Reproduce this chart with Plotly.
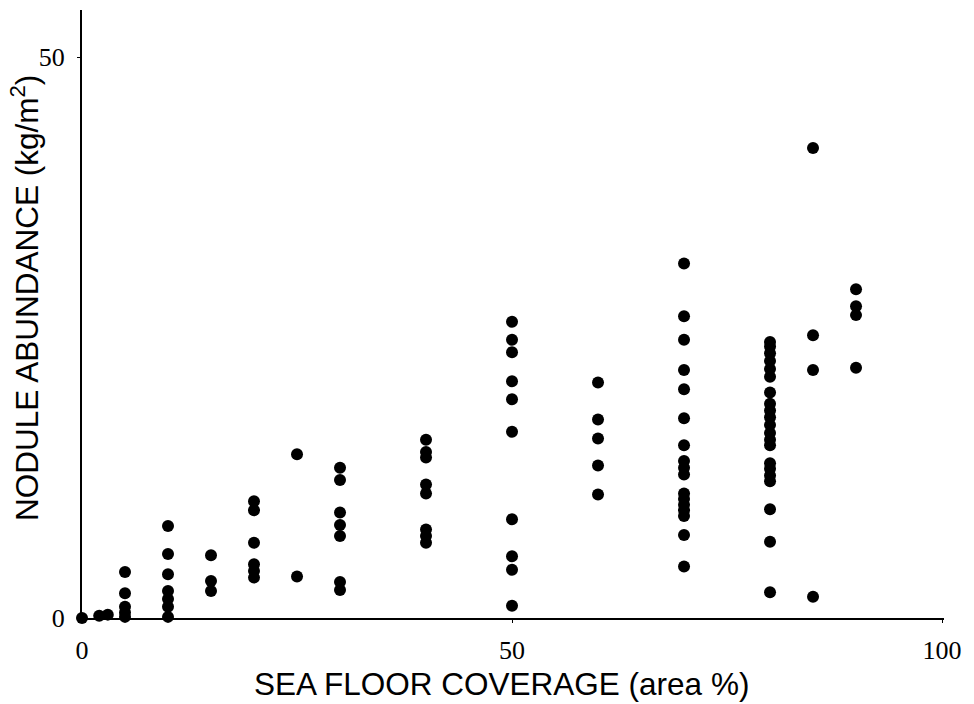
import plotly.graph_objects as go

# Sea floor coverage (area %) columns and nodule abundance (kg/m2) values
cov_0 = [0, 2, 3]
ab_0 = [0.0, 0.2, 0.3]
ab_5 = [4.1, 2.2, 1.0, 0.5, 0.1]
ab_10 = [8.2, 5.7, 3.9, 2.4, 1.7, 1.0, 0.1]
ab_15 = [5.6, 3.3, 2.4]
ab_20 = [10.4, 9.6, 6.7, 4.8, 4.2, 3.6]
ab_25 = [14.6, 3.7]
ab_30 = [13.4, 12.3, 9.4, 8.3, 7.3, 3.2, 2.5]
ab_40 = [15.9, 14.8, 14.3, 11.9, 11.1, 7.9, 7.3, 6.7]
ab_50 = [26.4, 24.8, 23.7, 21.1, 19.5, 16.6, 8.8, 5.5, 4.3, 1.1]
ab_60 = [21.0, 17.7, 16.0, 13.6, 11.0]
ab_70 = [31.6, 26.9, 24.8, 22.1, 20.4, 17.8, 15.4, 14.0, 13.4, 12.8,
         11.1, 10.6, 10.1, 9.6, 9.1, 7.4, 4.6]
ab_80 = [24.6, 24.2, 23.6, 22.9, 22.2, 21.5, 20.1, 19.1, 18.5, 17.9,
         17.2, 16.5, 15.9, 15.4, 13.8, 13.3, 12.7, 12.2, 9.7, 6.8, 2.3]
ab_85 = [41.9, 25.2, 22.1, 1.9]
ab_90 = [29.3, 27.8, 27.0, 22.3]

groups = [(5, ab_5), (10, ab_10), (15, ab_15), (20, ab_20), (25, ab_25),
          (30, ab_30), (40, ab_40), (50, ab_50), (60, ab_60), (70, ab_70),
          (80, ab_80), (85, ab_85), (90, ab_90)]

xs = list(cov_0)
ys = list(ab_0)
for c, vals in groups:
    xs += [c] * len(vals)
    ys += vals

x_ticks = [0, 50, 100]
y_ticks = [0, 50]

fig = go.Figure()
fig.add_trace(go.Scatter(
    x=xs, y=ys, mode="markers",
    marker=dict(size=12, color="black", line=dict(width=0)),
    cliponaxis=False, showlegend=False,
))

serif = "Liberation Serif"
sans = "Liberation Sans"

fig.update_layout(
    width=974, height=704,
    margin=dict(l=82, r=30, t=10, b=86),
    paper_bgcolor="white", plot_bgcolor="white",
    xaxis=dict(
        range=[0, 100.23], showgrid=False, zeroline=False,
        showline=True, linecolor="black", linewidth=2,
        tickvals=x_ticks, ticktext=[str(v) for v in x_ticks],
        ticks="outside", ticklen=3, tickcolor="black",
        ticklabelstandoff=5,
        tickfont=dict(family=serif, size=26, color="black"),
    ),
    yaxis=dict(
        range=[0, 54.2], showgrid=False, zeroline=False,
        showline=True, linecolor="black", linewidth=2,
        tickvals=y_ticks, ticktext=[str(v) for v in y_ticks],
        ticks="outside", ticklen=3, tickcolor="black",
        ticklabelstandoff=7,
        tickfont=dict(family=serif, size=26, color="black"),
    ),
    annotations=[
        dict(text="SEA FLOOR COVERAGE (area %)", xref="paper", yref="paper",
             x=(501 - 82) / 862, y=(618 - 684) / 608, xanchor="center", yanchor="middle",
             showarrow=False, font=dict(family=sans, size=31.5, color="black")),
        dict(text="NODULE ABUNDANCE (kg/m<sup>2</sup>)", xref="paper", yref="paper",
             x=(25 - 82) / 862, y=(618 - 298) / 608, xanchor="center", yanchor="middle",
             textangle=-90, showarrow=False,
             font=dict(family=sans, size=31.5, color="black")),
    ],
)

fig.write_html("out.html")
